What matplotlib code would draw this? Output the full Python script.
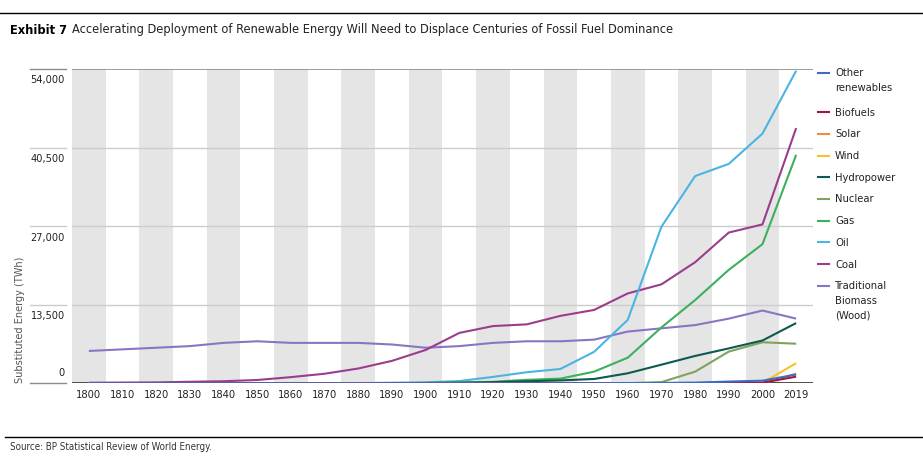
import matplotlib
matplotlib.use("Agg")
import matplotlib.pyplot as plt
from matplotlib import font_manager
from matplotlib.lines import Line2D
from matplotlib.transforms import blended_transform_factory

# ==========================================================
# FONT
# ==========================================================
names = {f.name for f in font_manager.fontManager.ttflist}
if "Liberation Sans Narrow" in names:
    plt.rcParams["font.family"] = ["Liberation Sans Narrow", "DejaVu Sans"]
else:
    plt.rcParams["font.family"] = ["DejaVu Sans"]
    plt.rcParams["font.stretch"] = "condensed"

# ==========================================================
# DATA (TWh, substituted method)
# ==========================================================
years = ["1800", "1810", "1820", "1830", "1840", "1850", "1860", "1870",
         "1880", "1890", "1900", "1910", "1920", "1930", "1940", "1950",
         "1960", "1970", "1980", "1990", "2000", "2019"]

biomass = [5556, 5833, 6111, 6389, 6944, 7222, 6944, 6944, 6944, 6667, 6111,
           6389, 6944, 7222, 7222, 7500, 8889, 9444, 10000, 11111, 12500, 11111]
coal = [97, 128, 153, 264, 356, 569, 1061, 1642, 2542, 3856, 5728,
        8656, 9833, 10125, 11586, 12603, 15442, 17000, 20800, 25900, 27300, 43850]
oil = [0, 0, 0, 0, 0, 0, 0, 6, 33, 100, 181,
       383, 1100, 1900, 2460, 5400, 10900, 26900, 35600, 37700, 42900, 53700]
gas = [0, 0, 0, 0, 0, 0, 0, 0, 0, 0, 64,
       150, 250, 600, 800, 2000, 4400, 9600, 14300, 19500, 23900, 39250]
nuclear = [0, 0, 0, 0, 0, 0, 0, 0, 0, 0, 0,
           0, 0, 0, 0, 0, 0, 200, 2000, 5450, 7050, 6800]
hydro = [0, 0, 0, 0, 0, 0, 0, 0, 0, 0, 48,
         100, 200, 350, 500, 740, 1720, 3200, 4700, 6000, 7350, 10350]
wind = [0, 0, 0, 0, 0, 0, 0, 0, 0, 0, 0,
        0, 0, 0, 0, 0, 0, 0, 0, 4, 90, 3450]
solar = [0, 0, 0, 0, 0, 0, 0, 0, 0, 0, 0,
         0, 0, 0, 0, 0, 0, 0, 0, 1, 3, 1650]
biofuels = [0, 0, 0, 0, 0, 0, 0, 0, 0, 0, 0,
            0, 0, 0, 0, 0, 0, 0, 0, 60, 110, 1140]
other = [0, 0, 0, 0, 0, 0, 0, 0, 0, 0, 0,
         0, 0, 0, 0, 0, 50, 70, 120, 300, 450, 1500]

yticks = [0, 13500, 27000, 40500, 54000]

# legend order top -> bottom
series = [
    ("Other\nrenewables", other, "#3d6cc2"),
    ("Biofuels", biofuels, "#a3173a"),
    ("Solar", solar, "#f08a46"),
    ("Wind", wind, "#f5c22c"),
    ("Hydropower", hydro, "#0d5a50"),
    ("Nuclear", nuclear, "#7da35c"),
    ("Gas", gas, "#3cb05c"),
    ("Oil", oil, "#4ab5e0"),
    ("Coal", coal, "#9a3d8c"),
    ("Traditional\nBiomass\n(Wood)", biomass, "#8b74c4"),
]

# ==========================================================
# FIGURE
# ==========================================================
W, H = 923, 463
fig = plt.figure(figsize=(W / 100, H / 100), dpi=100)
ax = fig.add_axes([72 / W, 1 - 383.3 / H, (813 - 72) / W, (383.3 - 69) / H])

x = list(range(len(years)))

# alternating grey bands
for i in x:
    if i % 2 == 0:
        ax.axvspan(i - 0.5, i + 0.5, color="#e5e5e5", lw=0, zorder=0)

# gridlines
for v in yticks:
    c = "#8c8c8c" if v in (0, 54000) else "#cccccc"
    ax.axhline(v, color=c, lw=1.2 if v == 54000 else 1.0, zorder=1)
ax.axhline(0, color="#333333", lw=1.2, zorder=1)

# lines (biomass drawn first, other renewables last)
for label, vals, col in reversed(series):
    ax.plot(x, vals, color=col, lw=1.5, zorder=3, solid_capstyle="butt")

ax.set_xlim(-0.5, len(years) - 0.5)
ax.set_ylim(0, 54000)
for s in ax.spines.values():
    s.set_visible(False)
ax.set_xticks(x)
ax.set_xticklabels(years, fontsize=8, color="#222222")
ax.tick_params(axis="x", length=0, pad=5)
ax.set_yticks([])

# y tick labels with short rules to the left
tr = blended_transform_factory(ax.transAxes, ax.transData)
for v in yticks:
    c = "#8c8c8c" if v in (0, 54000) else "#cccccc"
    ax.plot([-42 / 741, -6 / 741], [v, v], transform=tr, color=c, lw=1.0,
            clip_on=False)
    dy = 10 if v == 0 else -11.5
    ax.annotate(f"{v:,}", xy=(-7 / 741, v), xycoords=tr,
                xytext=(0, dy * 0.72), textcoords="offset points",
                ha="right", va="center", fontsize=7.8, color="#222222")

fig.text(20 / W, 1 - 320 / H, "Substituted Energy (TWh)", rotation=90,
         ha="center", va="center", fontsize=7.8, color="#555555")

# legend drawn by hand so the handle sits on the first text line
ly = 73
for label, vals, col in series:
    fy = 1 - ly / H
    fig.add_artist(Line2D([818 / W, 829 / W], [fy, fy], color=col, lw=1.5))
    fig.text(835 / W, fy + 4.5 / H, label, ha="left", va="top", fontsize=8,
             color="#222222", linespacing=1.55)
    ly += 21.7 + 17.5 * label.count("\n")

# title and rules
fig.add_artist(Line2D([0, 1], [1 - 13 / H, 1 - 13 / H], color="black", lw=1.0))
t1 = fig.text(10 / W, 1 - 30 / H, "Exhibit 7", fontsize=9.2, fontweight="bold",
              ha="left", va="center", color="black")
ax.annotate("Accelerating Deployment of Renewable Energy Will Need to Displace "
            "Centuries of Fossil Fuel Dominance", xy=(1, 0.5), xycoords=t1,
            xytext=(3.5, 0), textcoords="offset points", ha="left", va="center",
            fontsize=9.2, color="#222222", annotation_clip=False)

fig.add_artist(Line2D([5 / W, 1], [1 - 436.5 / H, 1 - 436.5 / H],
                      color="black", lw=1.0))
fig.text(10 / W, 1 - 447 / H, "Source: BP Statistical Review of World Energy.",
         fontsize=7, ha="left", va="center", color="#333333")

fig.savefig("out.png", dpi=100)
